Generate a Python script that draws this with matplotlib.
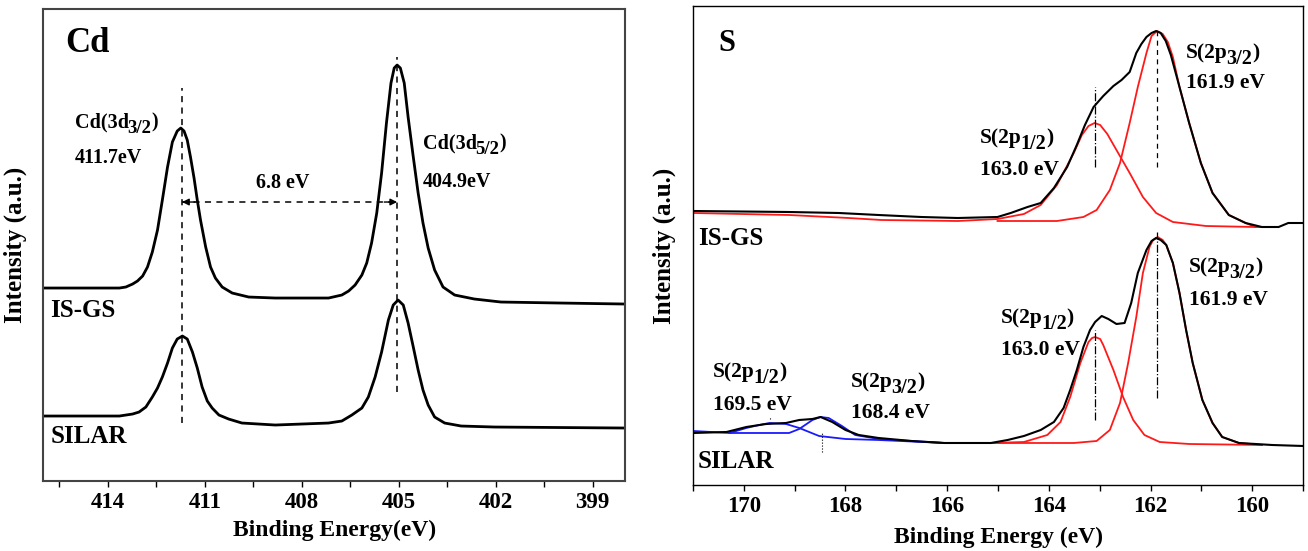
import matplotlib
matplotlib.use("Agg")
from matplotlib import pyplot as plt
from matplotlib.ticker import MultipleLocator

plt.rcParams['font.family'] = ['Liberation Serif', 'DejaVu Serif']
plt.rcParams['font.weight'] = 'bold'

# ---- Cd 3d spectra (binding energy in eV, intensity in a.u.) ----
cd_isgs_e = [415.95, 413.64, 413.44, 413.23, 413.08, 412.92, 412.77, 412.62, 412.46, 412.31,
             412.15, 412.0, 411.85, 411.74, 411.64, 411.54, 411.44, 411.33, 411.23, 411.13,
             410.97, 410.82, 410.67, 410.46, 410.15, 409.64, 408.82, 407.79, 407.17, 406.76,
             406.55, 406.35, 406.14, 405.99, 405.84, 405.68, 405.53, 405.38, 405.24, 405.14,
             405.05, 404.95, 404.83, 404.71, 404.55, 404.40, 404.25, 404.09, 403.89, 403.63,
             403.27, 402.66, 401.84, 400.0, 398.0]
cd_isgs_i = [192, 192, 193, 196, 199, 204, 213, 228, 250, 280,
             313, 338, 349, 352, 349, 340, 323, 302, 280, 260,
             233, 213, 202, 193, 187, 183, 182, 182, 182, 185,
             189, 195, 205, 217, 237, 267, 307, 357, 397, 412,
             415, 412, 397, 363, 323, 287, 257, 232, 210, 193,
             185, 181, 178, 177, 176]
cd_silar_e = [415.95, 413.64, 413.23, 413.03, 412.82, 412.62, 412.46, 412.31, 412.15, 412.0,
              411.85, 411.69, 411.54, 411.38, 411.23, 411.08, 410.92, 410.77, 410.56, 410.26,
              409.85, 408.82, 407.17, 406.76, 406.45, 406.14, 405.94, 405.73, 405.53, 405.32,
              405.17, 405.02, 404.86, 404.71, 404.55, 404.40, 404.25, 404.09, 403.89, 403.58,
              403.07, 402.04, 398.0]
cd_silar_i = [64, 64, 66, 68, 73, 83, 92, 103, 117, 132,
              141, 144, 141, 128, 112, 93, 79, 72, 65, 61,
              57, 55, 57, 59, 65, 72, 83, 103, 128, 160,
              175, 180, 175, 157, 133, 110, 90, 75, 63, 57,
              54, 53, 52]
cd_peaks = [411.7, 405.05]

# ---- S 2p spectra ----
s_isgs_e = [170.99, 169.11, 168.13, 167.35, 166.51, 165.79, 165.01, 164.75, 164.42, 164.16,
            163.90, 163.64, 163.45, 163.29, 163.12, 162.93, 162.73, 162.57, 162.41, 162.28,
            162.18, 162.08, 161.98, 161.89, 161.80, 161.70, 161.60, 161.43, 161.24, 161.01,
            160.78, 160.46, 160.13, 159.81, 159.48, 159.29, 159.0]
s_isgs_i = [274, 273, 272, 270, 268, 267, 268, 272, 278, 282,
            297, 318, 340, 360, 378, 389, 399, 405, 413, 432,
            441, 448, 452, 454, 452, 444, 430, 398, 362, 322,
            292, 270, 262, 258, 258, 262, 262]
s_isgs_fit1_e = [170.99, 169.11, 167.94, 167.29, 165.79, 165.01, 164.49, 164.16, 163.84, 163.51,
                 163.35, 163.22, 163.10, 162.99, 162.85, 162.67, 162.41, 162.15, 161.89, 161.56,
                 160.91, 159.94, 159.55]
s_isgs_fit1_i = [272, 270, 267, 265, 264, 266, 271, 280, 300, 332,
                 350, 359, 362, 360, 351, 335, 312, 288, 272, 263,
                 259, 258, 258]
s_isgs_fit2_e = [165.01, 163.84, 163.32, 163.06, 162.80, 162.60, 162.41, 162.25, 162.08, 161.98,
                 161.87, 161.76, 161.66, 161.56, 161.43, 161.24, 161.01, 160.78, 160.46, 160.13,
                 159.94, 159.55]
s_isgs_fit2_i = [264, 264, 268, 275, 295, 322, 362, 398, 432, 449,
                 454, 451, 443, 428, 398, 362, 322, 292, 270, 262,
                 258, 258]

s_silar_e = [170.99, 170.34, 169.95, 169.56, 169.17, 168.91, 168.65, 168.49, 168.26, 168.0,
             167.74, 167.35, 166.70, 166.05, 165.40, 165.14, 164.81, 164.49, 164.16, 163.90,
             163.71, 163.58, 163.45, 163.32, 163.19, 163.09, 162.96, 162.83, 162.67, 162.51,
             162.38, 162.25, 162.08, 161.98, 161.89, 161.80, 161.69, 161.56, 161.43, 161.30,
             161.17, 160.98, 160.78, 160.59, 160.26, 159.61, 159.0]
s_silar_i = [52, 53, 58, 61, 62, 65, 66, 68, 63, 55,
             50, 47, 44, 42, 42, 42, 45, 49, 55, 63,
             77, 95, 115, 138, 155, 163, 169, 166, 161, 162,
             182, 212, 235, 244, 247, 245, 240, 222, 192, 155,
             122, 85, 62, 48, 42, 40, 39]
s_silar_fit1_e = [165.14, 164.49, 164.03, 163.77, 163.58, 163.38, 163.22, 163.15, 163.09, 162.99,
                  162.93, 162.73, 162.54, 162.34, 162.12, 161.82, 161.24, 159.81]
s_silar_fit1_i = [42, 43, 50, 63, 88, 122, 143, 147, 148, 146,
                  140, 115, 88, 65, 50, 43, 41, 40]
s_silar_fit2_e = [165.14, 163.51, 163.06, 162.80, 162.60, 162.44, 162.28, 162.15, 162.02, 161.95,
                  161.86, 161.76, 161.69, 161.56, 161.43, 161.30, 161.17, 160.98, 160.78, 160.59,
                  160.26, 159.81]
s_silar_fit2_i = [42, 42, 44, 55, 82, 122, 168, 212, 238, 245,
                  248, 245, 240, 222, 192, 155, 122, 85, 62, 48,
                  42, 40]
s_silar_fit3_e = [170.99, 170.28, 169.95, 169.70, 169.49, 169.17, 168.91, 168.52, 168.0, 167.35,
                  166.05]
s_silar_fit3_i = [54, 52, 57, 60, 62, 61, 57, 49, 46, 45,
                  42]
s_silar_fit4_e = [170.28, 169.11, 168.91, 168.65, 168.49, 168.33, 168.07, 167.81, 167.35, 166.05]
s_silar_fit4_i = [52, 52, 56, 65, 68, 67, 59, 50, 46, 42]
s_peaks = [161.87, 163.1]
s_silar_ox_peaks = [169.49, 168.46]


def peak_label(ax, x, y, main, sub, size, subsize):
    # main text, lowered subscript and closing bracket
    t = ax.text(x, y, main, fontsize=size, va='baseline')
    s = ax.annotate(sub, xy=(1, 0), xycoords=t, xytext=(-1.0, -1), textcoords='offset points',
                    fontsize=subsize, va='baseline', ha='left')
    ax.annotate(')', xy=(1, 0), xycoords=(s, t), xytext=(0, 0), textcoords='offset points',
                fontsize=size, va='bottom', ha='left')


fig = plt.figure(figsize=(13.08, 5.51), dpi=100)
ax1 = fig.add_axes([0.0329, 0.127, 0.445, 0.8566])
ax2 = fig.add_axes([0.5298, 0.1198, 0.4664, 0.8693])

# ---------- left panel : Cd ----------
ax1.plot(cd_isgs_e, cd_isgs_i, color='black', lw=2.0)
ax1.plot(cd_silar_e, cd_silar_i, color='black', lw=2.0)
ax1.plot([cd_peaks[0]] * 2, [57, 392], color='black', lw=1.1, ls=(0, (4, 3.5)))
ax1.plot([cd_peaks[1]] * 2, [88, 423], color='black', lw=1.1, ls=(0, (4, 3.5)))
ax1.plot(cd_peaks, [278, 278], color='black', lw=1.1, ls=(0, (4, 3.5)))
for a, b in [(cd_peaks[0] - 0.4, cd_peaks[0]), (cd_peaks[1] + 0.4, cd_peaks[1])]:
    ax1.annotate('', xy=(b, 278), xytext=(a, 278),
                 arrowprops=dict(arrowstyle='-|>', color='black', lw=1.0,
                                 mutation_scale=10, shrinkA=0, shrinkB=0))

ax1.set_xlim(416, 398)
ax1.set_ylim(-1, 471)
ax1.text(415.3, 428, 'Cd', fontsize=25, weight='bold')
peak_label(ax1, 415.02, 353, 'Cd(3d', '3/2', 14.5, 13.5)
ax1.text(415.02, 317, '411.7eV', fontsize=14.5)
ax1.text(408.6, 292, '6.8 eV', fontsize=14.5, ha='center')
peak_label(ax1, 404.25, 332, 'Cd(3d', '5/2', 14.5, 13.5)
ax1.text(404.25, 293, '404.9eV', fontsize=14.5)
ax1.text(415.78, 163, 'IS-GS', fontsize=18)
ax1.text(415.78, 37, 'SILAR', fontsize=18)

ax1.xaxis.set_major_locator(MultipleLocator(3))
ax1.xaxis.set_minor_locator(MultipleLocator(1.5))
ax1.set_yticks([])
ax1.tick_params(axis='x', which='both', direction='out', length=4, width=1,
                labelsize=16.5, pad=4)
for s in ax1.spines.values():
    s.set_color('#444444')
    s.set_linewidth(1.5)
ax1.set_xlabel('Binding Energy(eV)', fontsize=17, weight='bold')
ax1.set_ylabel('Intensity (a.u.)', fontsize=18, weight='bold')
ax1.xaxis.set_label_coords(0.5, -0.083)
ax1.yaxis.set_label_coords(-0.028, 0.5)

# ---------- right panel : S ----------
red = '#ff1a1a'
blue = '#1a1aff'
ax2.plot(s_isgs_fit1_e, s_isgs_fit1_i, color=red, lw=1.3)
ax2.plot(s_isgs_fit2_e, s_isgs_fit2_i, color=red, lw=1.3)
ax2.plot(s_silar_fit1_e, s_silar_fit1_i, color=red, lw=1.3)
ax2.plot(s_silar_fit2_e, s_silar_fit2_i, color=red, lw=1.3)
ax2.plot(s_silar_fit3_e, s_silar_fit3_i, color=blue, lw=1.3)
ax2.plot(s_silar_fit4_e, s_silar_fit4_i, color=blue, lw=1.3)
ax2.plot(s_isgs_e, s_isgs_i, color='black', lw=1.5)
ax2.plot(s_silar_e, s_silar_i, color='black', lw=1.5)

ax2.plot([s_peaks[0]] * 2, [318, 458], color='black', lw=0.9, ls=(0, (4, 3.5)))
ax2.plot([s_peaks[1]] * 2, [318, 398], color='black', lw=0.9, ls='-.')
ax2.plot([s_peaks[0]] * 2, [87, 253], color='black', lw=0.9, ls='-.')
ax2.plot([s_peaks[1]] * 2, [65, 155], color='black', lw=0.9, ls='-.')
ax2.plot([s_silar_ox_peaks[1]] * 2, [33, 53], color='black', lw=0.8, ls=':')
ax2.plot([s_silar_ox_peaks[0]] * 2, [66, 68], color='black', lw=0.8, ls=':')

ax2.set_xlim(171, 159)
ax2.set_ylim(0, 479)
lab, sublab = 15.5, 14.5
ax2.text(170.5, 434, 'S', fontsize=22, weight='bold')
peak_label(ax2, 161.3, 427, 'S(2p', '3/2', lab, sublab)
ax2.text(161.3, 397, '161.9 eV', fontsize=lab)
peak_label(ax2, 165.36, 342, 'S(2p', '1/2', lab, sublab)
ax2.text(165.36, 310, '163.0 eV', fontsize=lab)
peak_label(ax2, 161.24, 213, 'S(2p', '3/2', lab, sublab)
ax2.text(161.24, 180, '161.9 eV', fontsize=lab)
peak_label(ax2, 164.95, 162, 'S(2p', '1/2', lab, sublab)
ax2.text(164.95, 130, '163.0 eV', fontsize=lab)
peak_label(ax2, 170.61, 108, 'S(2p', '1/2', lab, sublab)
ax2.text(170.61, 75, '169.5 eV', fontsize=lab)
peak_label(ax2, 167.9, 98, 'S(2p', '3/2', lab, sublab)
ax2.text(167.9, 67, '168.4 eV', fontsize=lab)
ax2.text(170.9, 240, 'IS-GS', fontsize=18)
ax2.text(170.9, 17, 'SILAR', fontsize=18)

ax2.xaxis.set_major_locator(MultipleLocator(2))
ax2.xaxis.set_minor_locator(MultipleLocator(1))
ax2.set_yticks([])
ax2.tick_params(axis='x', which='both', direction='out', length=4, width=1,
                labelsize=16.5, pad=4)
for s in ax2.spines.values():
    s.set_color('black')
    s.set_linewidth(1.0)
ax2.set_xlabel('Binding Energy (eV)', fontsize=17, weight='bold')
ax2.set_ylabel('Intensity (a.u.)', fontsize=18, weight='bold')
ax2.xaxis.set_label_coords(0.5, -0.088)
ax2.yaxis.set_label_coords(-0.028, 0.5)

fig.savefig('out.png', dpi=100)
